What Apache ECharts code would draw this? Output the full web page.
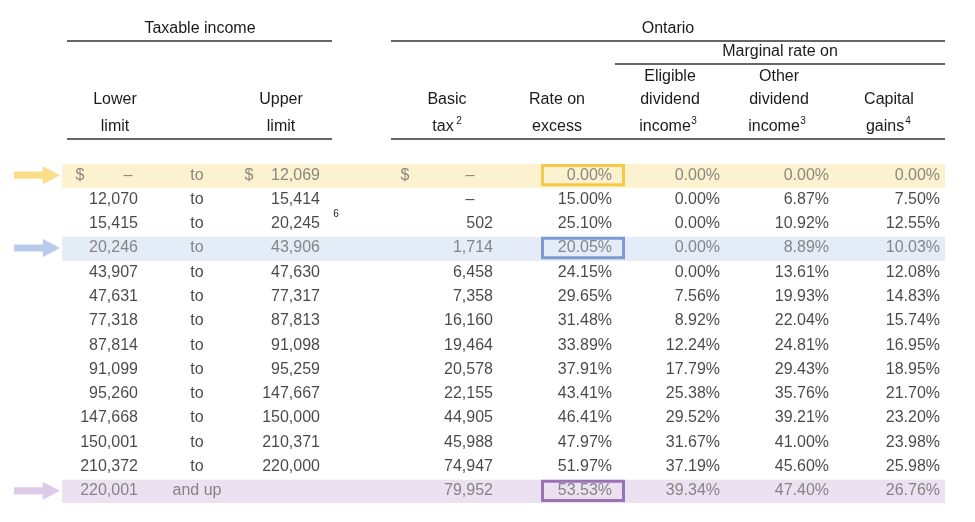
<!DOCTYPE html>
<html>
<head>
<meta charset="utf-8">
<script src="https://cdn.jsdelivr.net/npm/echarts@6/dist/echarts.min.js"></script>
<style>html,body{margin:0;background:#fff}#c{width:975px;height:522px}</style>
</head>
<body>
<div id="c"></div>
<script>
// table values
var lowerLimit = ['–','12,070','15,415','20,246','43,907','47,631','77,318','87,814','91,099','95,260','147,668','150,001','210,372','220,001'];
var upperLimit = ['12,069','15,414','20,245','43,906','47,630','77,317','87,813','91,098','95,259','147,667','150,000','210,371','220,000',''];
var joiner = ['to','to','to','to','to','to','to','to','to','to','to','to','to','and up'];
var basicTax = ['–','–','502','1,714','6,458','7,358','16,160','19,464','20,578','22,155','44,905','45,988','74,947','79,952'];
var rateOnExcess = [0.00,15.00,25.10,20.05,24.15,29.65,31.48,33.89,37.91,43.41,46.41,47.97,51.97,53.53];
var eligibleDiv = [0.00,0.00,0.00,0.00,0.00,7.56,8.92,12.24,17.79,25.38,29.52,31.67,37.19,39.34];
var otherDiv = [0.00,6.87,10.92,8.89,13.61,19.93,22.04,24.81,29.43,35.76,39.21,41.00,45.60,47.40];
var capitalGains = [0.00,7.50,12.55,10.03,12.08,14.83,15.74,16.95,18.95,21.70,23.20,23.98,25.98,26.76];
var highlights = [{row:0,fill:'#fdf2cf',box:'#f7c948',arrow:'#fad66b'},
                  {row:3,fill:'#e3ecf7',box:'#7d9bd2',arrow:'#a9bfe3'},
                  {row:13,fill:'#ece1f0',box:'#9b72b8',arrow:'#d4bde3'}];

var rows = lowerLimit.map(function(_, i){ return String(i); });
var font = '"Liberation Sans", Arial, sans-serif';
function hi(i){ for (var k = 0; k < highlights.length; k++) if (highlights[k].row === i) return highlights[k]; return null; }
function color(i){ return hi(i) ? '#6b6b6b' : '#1a1a1a'; }
function pct(v){ return v.toFixed(2) + '%'; }

// text column: x anchor and alignment
function column(x, align, texts){
  return {
    type:'scatter', symbolSize:0, silent:true, z:5,
    data: texts.map(function(t, i){
      return {value:[x, i], label:{show:true, formatter:t, color:color(i),
        position: align === 'right' ? 'left' : 'inside', distance:0}};
    }),
    label:{fontFamily:font, fontSize:16}
  };
}
// horizontal band from x0 to x1 on highlighted rows
function band(stack, x0, x1, width, styleFn){
  return [
    {type:'bar', stack:stack, silent:true, barWidth:width, barGap:'-100%', z:1,
     itemStyle:{color:'rgba(0,0,0,0)'},
     data: rows.map(function(_, i){ return hi(i) ? x0 : '-'; })},
    {type:'bar', stack:stack, silent:true, barWidth:width, barGap:'-100%', z:styleFn.z,
     data: rows.map(function(_, i){ var h = hi(i); return h ? {value:x1 - x0, itemStyle:styleFn(h)} : '-'; })}
  ];
}
var fillStyle = function(h){ return {color:h.fill}; }; fillStyle.z = 1;
var boxStyle = function(h){ return {color:'rgba(0,0,0,0)', borderColor:h.box, borderWidth:3}; }; boxStyle.z = 3;

var series = [].concat(
  band('bandA', 62, 945, '100%', fillStyle),
  band('boxA', 541, 625, '92%', boxStyle),
  [
  column(138,'right',lowerLimit.map(function(t,i){ return i===0 ? '' : t; })),
  column(128,'center',lowerLimit.map(function(t,i){ return i===0 ? t : ''; })),
  column(80,'center',lowerLimit.map(function(t,i){ return i===0 ? '$' : ''; })),
  column(197,'center',joiner),
  column(320,'right',upperLimit),
  column(249,'center',upperLimit.map(function(t,i){ return i===0 ? '$' : ''; })),
  column(405,'center',basicTax.map(function(t,i){ return i===0 ? '$' : ''; })),
  column(493,'right',basicTax.map(function(t){ return t === '–' ? '' : t; })),
  column(470,'center',basicTax.map(function(t){ return t === '–' ? t : ''; })),
  column(612,'right',rateOnExcess.map(pct)),
  column(720,'right',eligibleDiv.map(pct)),
  column(829,'right',otherDiv.map(pct)),
  column(940,'right',capitalGains.map(pct)),
  {type:'scatter', silent:true, z:4, symbol:'path://M0,3 L10,3 L10,0 L16,5 L10,10 L10,7 L0,7 Z',
   symbolSize:[46,18], symbolKeepAspect:false,
   data: highlights.map(function(h){ return {value:[37, h.row], itemStyle:{color:h.arrow}}; })}
  ]
);

function txt(x, y, s, align, size){
  return {type:'text', x:x, y:y, style:{text:s, font:(size||16)+'px '+font, fill:'#1a1a1a', textAlign:align||'center', textVerticalAlign:'middle'}};
}
function line(x1, x2, y){
  return {type:'line', shape:{x1:x1,y1:y,x2:x2,y2:y}, style:{stroke:'#333', lineWidth:1.5}};
}
var graphic = [
  txt(200,29,'Taxable income'), line(67,332,41), line(67,332,139),
  txt(668,29,'Ontario'), line(391,945,41), line(391,945,139),
  txt(780,52,'Marginal rate on'), line(615,945,64),
  txt(115,100,'Lower'), txt(115,127,'limit'),
  txt(281,100,'Upper'), txt(281,127,'limit'),
  txt(447,100,'Basic'), txt(443,127,'tax'), txt(459,121,'2','center',10),
  txt(557,100,'Rate on'), txt(557,127,'excess'),
  txt(670,77,'Eligible'), txt(670,100,'dividend'), txt(665,127,'income'), txt(694,121,'3','center',10),
  txt(779,77,'Other'), txt(779,100,'dividend'), txt(774,127,'income'), txt(803,121,'3','center',10),
  txt(889,100,'Capital'), txt(885,127,'gains'), txt(908,121,'4','center',10),
  txt(336,214,'6','center',10)
];

var chart = echarts.init(document.getElementById('c'));
chart.setOption({
  animation:false,
  grid:{left:0, right:0, top:163, bottom:19},
  xAxis:{type:'value', min:0, max:975, show:false},
  yAxis:{type:'category', data:rows, inverse:true, show:false},
  series:series,
  graphic:graphic
});
</script>
</body>
</html>
